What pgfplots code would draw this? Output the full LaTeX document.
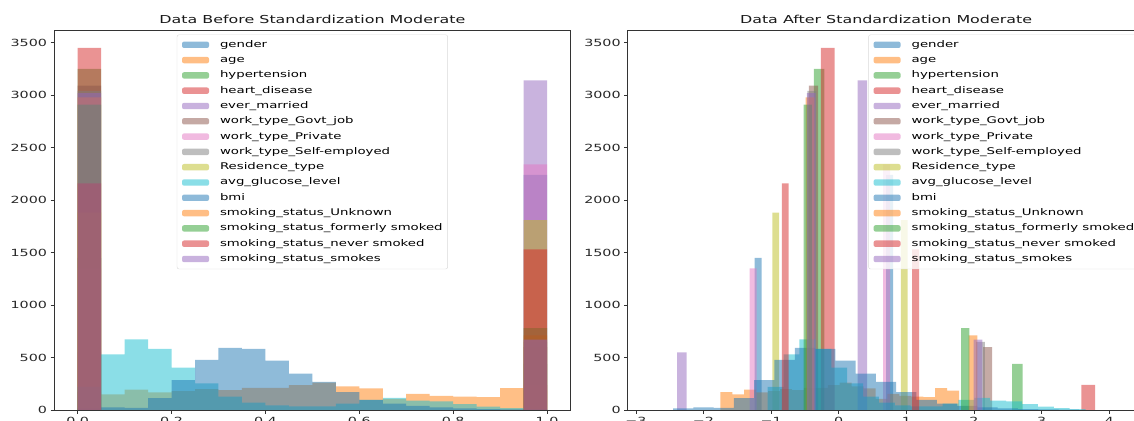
\documentclass[border=0pt]{standalone}
\usepackage{pgfplots}
\pgfplotsset{compat=1.18}
\usepackage{fontspec}
\setmainfont{DejaVu Sans}[FakeStretch=1.45]
\definecolor{c1}{RGB}{31,119,180}
\definecolor{c2}{RGB}{255,127,14}
\definecolor{c3}{RGB}{44,160,44}
\definecolor{c4}{RGB}{214,39,40}
\definecolor{c5}{RGB}{148,103,189}
\definecolor{c6}{RGB}{140,86,75}
\definecolor{c7}{RGB}{227,119,194}
\definecolor{c8}{RGB}{127,127,127}
\definecolor{c9}{RGB}{188,189,34}
\definecolor{c10}{RGB}{23,190,207}
\pgfplotsset{
  myhist/.style={ybar interval, draw=none, fill=#1, fill opacity=0.5,
    legend image code/.code={\fill[fill=#1, fill opacity=0.5] (0bp,-3.2bp) rectangle (27bp,3.2bp);}},
  myaxis/.style={
    scale only axis, width=516.7bp, height=380bp, anchor=south west,
    ymin=0, ymax=3621, ytick={0,500,1000,1500,2000,2500,3000,3500},
    axis line style={black!80, line width=0.6bp},
    tick style={black!80, line width=0.6bp},
    major tick length=3.5bp, tick align=outside, tick pos=left,
    /pgf/number format/assume math mode=true,
    /pgf/number format/1000 sep={},
    ticklabel style={font=\fontsize{9.9}{11}\selectfont, text=black!85},
    title style={font=\fontsize{11}{13}\selectfont, anchor=base, at={(0.5,1)}, yshift=0.5bp, inner sep=0pt, text=black!90},
    legend cell align=left,
    legend style={font=\fontsize{9.2}{11}\selectfont, draw=black!15, rounded corners=2bp,
      fill=white, fill opacity=0.8, text opacity=1, draw opacity=1,
      row sep=5.3bp, column sep=11bp, inner xsep=5bp, inner ysep=5bp,
      nodes={inner sep=0pt, text height=7.5bp, text depth=2.5bp}},
  }
}
\begin{document}
\begin{tikzpicture}
\path[use as bounding box] (0bp,0bp) rectangle (1134bp,421bp);
\clip (0bp,0bp) rectangle (1134bp,421bp);
\begin{axis}[myaxis, at={(54bp,11bp)}, xmin=-0.0505, xmax=1.0505,
  xtick={0,0.2,0.4,0.6,0.8,1}, xticklabels={0.0,0.2,0.4,0.6,0.8,1.0},
  title={Data Before Standardization Moderate},
  legend style={at={(0.5,1)}, anchor=north, yshift=-4.6bp}]
\addplot[myhist=c1] coordinates {(0,1450) (0.05,0) (0.95,2240) (1,0)};
\addlegendentry{gender}
\addplot[myhist=c2] coordinates {(0,170) (0.05,148) (0.1,195) (0.15,167) (0.2,180) (0.25,200) (0.3,190) (0.35,212) (0.4,212) (0.45,237) (0.5,260) (0.55,224) (0.6,205) (0.65,105) (0.7,154) (0.75,135) (0.8,128) (0.85,122) (0.9,208) (0.95,185) (1,0)};
\addlegendentry{age}
\addplot[myhist=c3] coordinates {(0,3250) (0.05,0) (0.95,440) (1,0)};
\addlegendentry{hypertension}
\addplot[myhist=c4] coordinates {(0,3450) (0.05,0) (0.95,240) (1,0)};
\addlegendentry{heart\_disease}
\addplot[myhist=c5] coordinates {(0,550) (0.05,0) (0.95,3140) (1,0)};
\addlegendentry{ever\_married}
\addplot[myhist=c6] coordinates {(0,3090) (0.05,0) (0.95,600) (1,0)};
\addlegendentry{work\_type\_Govt\_job}
\addplot[myhist=c7] coordinates {(0,1350) (0.05,0) (0.95,2340) (1,0)};
\addlegendentry{work\_type\_Private}
\addplot[myhist=c8] coordinates {(0,3040) (0.05,0) (0.95,650) (1,0)};
\addlegendentry{work\_type\_Self-employed}
\addplot[myhist=c9] coordinates {(0,1880) (0.05,0) (0.95,1810) (1,0)};
\addlegendentry{Residence\_type}
\addplot[myhist=c10] coordinates {(0,220) (0.05,529) (0.1,673) (0.15,583) (0.2,404) (0.25,253) (0.3,128) (0.35,70) (0.4,45) (0.45,35) (0.5,35) (0.55,60) (0.6,96) (0.65,115) (0.7,90) (0.75,83) (0.8,55) (0.85,32) (0.9,18) (0.95,8) (1,0)};
\addlegendentry{avg\_glucose\_level}
\addplot[myhist=c1] coordinates {(0,15) (0.05,25) (0.1,20) (0.15,112) (0.2,285) (0.25,478) (0.3,593) (0.35,583) (0.4,471) (0.45,346) (0.5,269) (0.55,170) (0.6,96) (0.65,60) (0.7,40) (0.75,25) (0.8,15) (0.85,8) (0.9,5) (0.95,3) (1,0)};
\addlegendentry{bmi}
\addplot[myhist=c2] coordinates {(0,2980) (0.05,0) (0.95,710) (1,0)};
\addlegendentry{smoking\_status\_Unknown}
\addplot[myhist=c3] coordinates {(0,2910) (0.05,0) (0.95,780) (1,0)};
\addlegendentry{smoking\_status\_formerly smoked}
\addplot[myhist=c4] coordinates {(0,2160) (0.05,0) (0.95,1530) (1,0)};
\addlegendentry{smoking\_status\_never smoked}
\addplot[myhist=c5] coordinates {(0,3020) (0.05,0) (0.95,670) (1,0)};
\addlegendentry{smoking\_status\_smokes}
\end{axis}
\begin{axis}[myaxis, at={(627.7bp,11bp)}, xmin=-3.12, xmax=4.52,
  xtick={-3,-2,-1,0,1,2,3,4}, xticklabels={−3,−2,−1,0,1,2,3,4},
  title={Data After Standardization Moderate},
  legend style={at={(1,1)}, anchor=north east, xshift=-5bp, yshift=-4.6bp}]
\addplot[myhist=c1] coordinates {(-1.2428,1450) (-1.1404,0) (0.7023,2240) (0.8047,0)};
\addlegendentry{gender}
\addplot[myhist=c2] coordinates {(-1.75,170) (-1.5735,148) (-1.397,195) (-1.2205,167) (-1.044,180) (-0.8675,200) (-0.691,190) (-0.5145,212) (-0.338,212) (-0.1615,237) (0.015,260) (0.1915,224) (0.368,205) (0.5445,105) (0.721,154) (0.8975,135) (1.074,128) (1.2505,122) (1.427,208) (1.6035,185) (1.78,0)};
\addlegendentry{age}
\addplot[myhist=c3] coordinates {(-0.3680,3250) (-0.2137,0) (2.5635,440) (2.7178,0)};
\addlegendentry{hypertension}
\addplot[myhist=c4] coordinates {(-0.2637,3450) (-0.0609,0) (3.5886,240) (3.7914,0)};
\addlegendentry{heart\_disease}
\addplot[myhist=c5] coordinates {(-2.3894,550) (-2.2490,0) (0.2781,3140) (0.4185,0)};
\addlegendentry{ever\_married}
\addplot[myhist=c6] coordinates {(-0.4407,3090) (-0.3052,0) (2.1339,600) (2.2694,0)};
\addlegendentry{work\_type\_Govt\_job}
\addplot[myhist=c7] coordinates {(-1.3166,1350) (-1.2128,0) (0.6558,2340) (0.7596,0)};
\addlegendentry{work\_type\_Private}
\addplot[myhist=c8] coordinates {(-0.4624,3040) (-0.3311,0) (2.0313,650) (2.1626,0)};
\addlegendentry{work\_type\_Self-employed}
\addplot[myhist=c9] coordinates {(-0.9812,1880) (-0.8812,0) (0.9191,1810) (1.0191,0)};
\addlegendentry{Residence\_type}
\addplot[myhist=c10] coordinates {(-1.05,220) (-0.815,529) (-0.58,673) (-0.345,583) (-0.11,404) (0.125,253) (0.36,128) (0.595,70) (0.83,45) (1.065,35) (1.30,35) (1.535,60) (1.77,96) (2.005,115) (2.24,90) (2.475,83) (2.71,55) (2.945,32) (3.18,18) (3.415,8) (3.65,0)};
\addlegendentry{avg\_glucose\_level}
\addplot[myhist=c1] coordinates {(-2.45,15) (-2.15,25) (-1.85,20) (-1.55,112) (-1.25,285) (-0.95,478) (-0.65,593) (-0.35,583) (-0.05,471) (0.25,346) (0.55,269) (0.85,170) (1.15,96) (1.45,60) (1.75,40) (2.05,25) (2.35,15) (2.65,8) (2.95,5) (3.25,3) (3.55,0)};
\addlegendentry{bmi}
\addplot[myhist=c2] coordinates {(-0.4881,2980) (-0.3613,0) (1.9220,710) (2.0488,0)};
\addlegendentry{smoking\_status\_Unknown}
\addplot[myhist=c3] coordinates {(-0.5177,2910) (-0.3952,0) (1.8090,780) (1.9315,0)};
\addlegendentry{smoking\_status\_formerly smoked}
\addplot[myhist=c4] coordinates {(-0.8416,2160) (-0.7401,0) (1.0867,1530) (1.1882,0)};
\addlegendentry{smoking\_status\_never smoked}
\addplot[myhist=c5] coordinates {(-0.4710,3020) (-0.3413,0) (1.9934,670) (2.1231,0)};
\addlegendentry{smoking\_status\_smokes}
\end{axis}
\end{tikzpicture}
\end{document}
